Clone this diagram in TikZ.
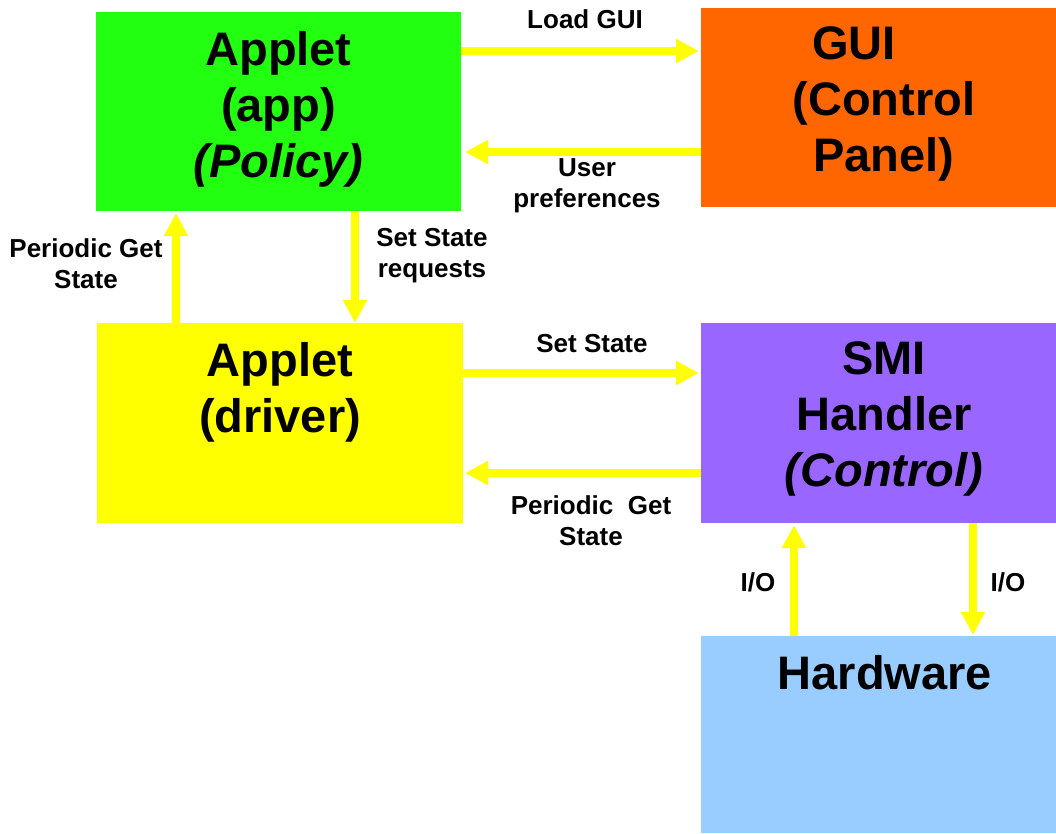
\documentclass[tikz,border=0pt]{standalone}
\usepackage{fontspec}
\setmainfont{Liberation Sans}
\usetikzlibrary{arrows.meta}
\definecolor{appgreen}{RGB}{34,255,17}
\definecolor{guiorange}{RGB}{255,102,0}
\definecolor{drvyellow}{RGB}{255,255,0}
\definecolor{smipurple}{RGB}{153,102,255}
\definecolor{hwblue}{RGB}{153,204,255}
\tikzset{
  blk/.style={minimum width=#1, inner sep=0pt, draw=none},
  big/.style={font=\fontsize{47}{56}\selectfont\bfseries, align=center, anchor=north, inner sep=0pt},
  lbl/.style={font=\fontsize{26}{31}\selectfont\bfseries, align=center, inner sep=0pt},
  arr/.style={-{Triangle[length=23pt,width=23pt]}, line width=8pt, draw=drvyellow}
}
\begin{document}
\begin{tikzpicture}[x=1pt,y=1pt]
\useasboundingbox (0,0) rectangle (1056,833);

% boxes
\node[blk=365pt, minimum height=199pt, fill=appgreen] (app) at (278.5,721.5) {};
\node[blk=355pt, minimum height=199pt, fill=guiorange] (gui) at (878.5,725.5) {};
\node[blk=366pt, minimum height=200pt, fill=drvyellow] (drv) at (280,410) {};
\node[blk=355pt, minimum height=200pt, fill=smipurple] (smi) at (878.5,410) {};
\node[blk=355pt, minimum height=197pt, fill=hwblue] (hw) at (878.5,98.5) {};

% box texts
\node[big] (apptxt) at ([yshift=-19pt]app.north) {Applet\\(app)\\\textit{(Policy)}};
\node[big] (guitxt) at ([xshift=5.5pt,yshift=-19pt]gui.north) {GUI\hspace*{1.28em}\\(Control\\Panel)};
\node[big] (drvtxt) at ([yshift=-19pt]drv.north) {Applet\\(driver)};
\node[big] (smitxt) at ([xshift=5.5pt,yshift=-19pt]smi.north) {SMI\\Handler\\\textit{(Control)}};
\node[big] (hwtxt) at ([xshift=6.5pt,yshift=-19pt]hw.north) {Hardware};

% arrows
\draw[arr, shorten >=2pt] (app.east |- 0,782) -- (gui.west |- 0,782);
\draw[arr, shorten >=4pt] (gui.west |- 0,681) -- (app.east |- 0,681);
\draw[arr, shorten >=2pt] (drv.north -| 176,0) -- (app.south -| 176,0);
\draw[arr] (app.south -| 355,0) -- (drv.north -| 355,0);
\draw[arr, shorten >=2pt] (drv.east |- 0,460) -- (smi.west |- 0,460);
\draw[arr, shorten >=2pt] (smi.west |- 0,360) -- (drv.east |- 0,360);
\draw[arr, shorten >=2pt] (hw.north -| 794,0) -- (smi.south -| 794,0);
\draw[arr, shorten >=1pt] (smi.south -| 973,0) -- (hw.north -| 973,0);

% labels
\node[lbl] (loadgui) at (585,814) {Load GUI};
\node[lbl] (userpref) at (587,647.5) {User\\preferences};
\node[lbl] (getup) at (86,569.5) {Periodic Get\\State};
\node[lbl] (setreq) at (432,577.5) {Set State\\requests};
\node[lbl] (setst) at (592,489) {Set State};
\node[lbl] (getst) at (591,312.5) {Periodic\ \ Get\\State};
\node[lbl] (ioup) at (758,251) {I/O};
\node[lbl] (iodown) at (1008,251) {I/O};

\end{tikzpicture}
\end{document}
